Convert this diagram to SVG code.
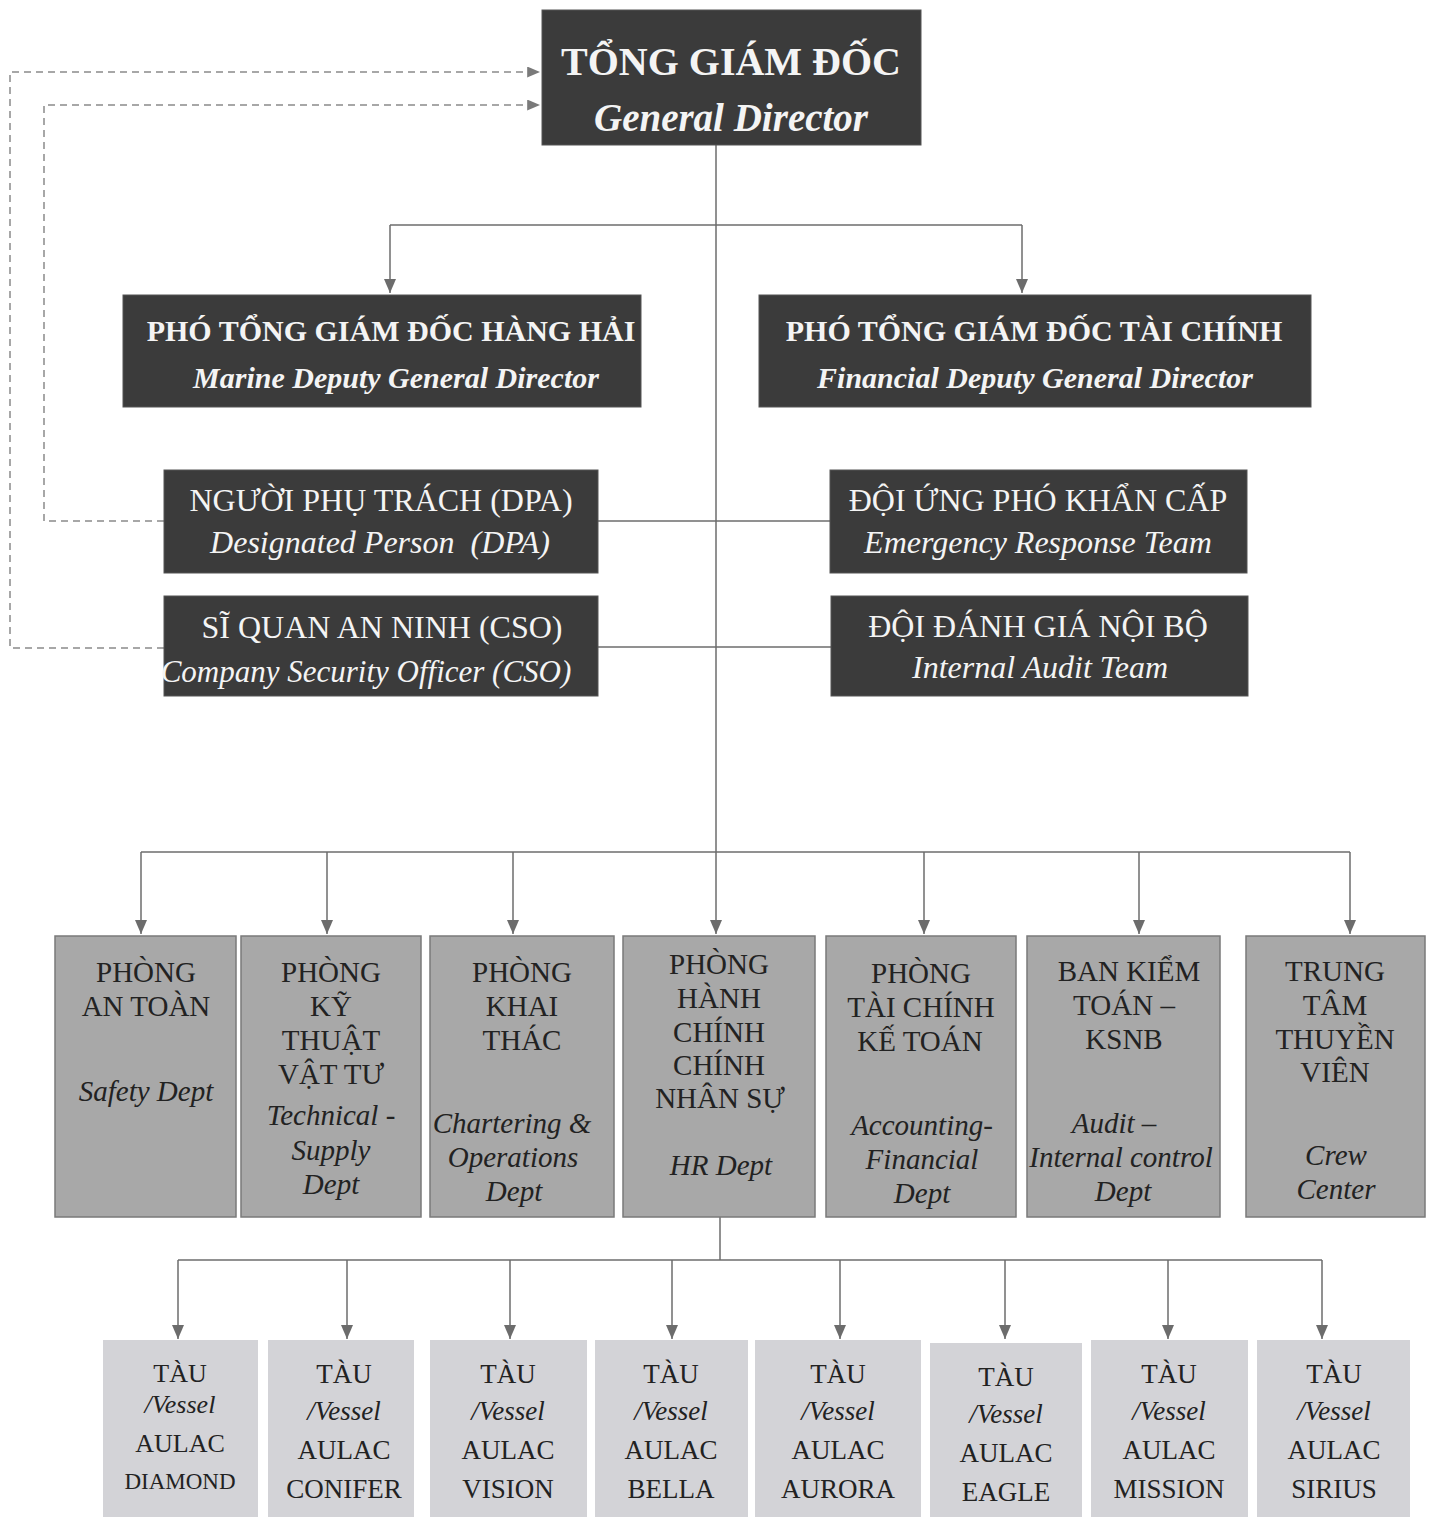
<svg xmlns="http://www.w3.org/2000/svg" width="1431" height="1517" viewBox="0 0 1431 1517">
<defs>
<marker id="ah" viewBox="0 0 14 12" refX="14" refY="6" markerWidth="14" markerHeight="12" markerUnits="userSpaceOnUse" orient="auto"><path d="M0,0 L14,6 L0,12 z" fill="#6c6c6c"/></marker>
<marker id="ahd" viewBox="0 0 14 12" refX="14" refY="6" markerWidth="13" markerHeight="11" markerUnits="userSpaceOnUse" orient="auto"><path d="M0,0 L14,6 L0,12 z" fill="#7a7a7a"/></marker>
<style>
.dark{fill:#3b3b3b;stroke:#555;stroke-width:1}
.dept{fill:#a8a8a8;stroke:#7a7a7a;stroke-width:1.5}
.ves{fill:#d3d3d7}
.t{font-family:"Liberation Serif","Times New Roman",serif;text-anchor:middle}
.w{fill:#f4f4f4}
.k{fill:#222}
.b{font-weight:bold}
.i{font-style:italic}
.ln{fill:none;stroke:#6c6c6c;stroke-width:1.5}
.dl{fill:none;stroke:#8a8a8a;stroke-width:1.5;stroke-dasharray:7 5}
</style>
</defs>
<rect width="1431" height="1517" fill="#fff"/>

<g id="connectors">
<path class="dl" d="M164,648 H10 V72 H540" marker-end="url(#ahd)"/>
<path class="dl" d="M164,521 H44 V105 H540" marker-end="url(#ahd)"/>
<path class="ln" d="M716,145 V934" marker-end="url(#ah)"/>
<path class="ln" d="M390,225 H1022"/>
<path class="ln" d="M390,225 V293" marker-end="url(#ah)"/>
<path class="ln" d="M1022,225 V293" marker-end="url(#ah)"/>
<path class="ln" d="M598,521 H830"/>
<path class="ln" d="M598,647 H831"/>
<path class="ln" d="M141,852 H1350"/>
<path class="ln" d="M141,852 V934" marker-end="url(#ah)"/>
<path class="ln" d="M327,852 V934" marker-end="url(#ah)"/>
<path class="ln" d="M513,852 V934" marker-end="url(#ah)"/>
<path class="ln" d="M924,852 V934" marker-end="url(#ah)"/>
<path class="ln" d="M1139,852 V934" marker-end="url(#ah)"/>
<path class="ln" d="M1350,852 V934" marker-end="url(#ah)"/>
<path class="ln" d="M720,1217 V1260"/>
<path class="ln" d="M178,1260 H1322"/>
<path class="ln" d="M178,1260 V1339" marker-end="url(#ah)"/>
<path class="ln" d="M347,1260 V1339" marker-end="url(#ah)"/>
<path class="ln" d="M510,1260 V1339" marker-end="url(#ah)"/>
<path class="ln" d="M672,1260 V1339" marker-end="url(#ah)"/>
<path class="ln" d="M840,1260 V1339" marker-end="url(#ah)"/>
<path class="ln" d="M1005,1260 V1339" marker-end="url(#ah)"/>
<path class="ln" d="M1168,1260 V1339" marker-end="url(#ah)"/>
<path class="ln" d="M1322,1260 V1339" marker-end="url(#ah)"/>
</g>

<g id="gd">
<rect class="dark" x="542" y="10" width="379" height="135"/>
<text class="t w b" x="731" y="75" font-size="40">TỔNG GIÁM ĐỐC</text>
<text class="t w b i" x="731" y="131" font-size="39">General Director</text>
</g>

<g id="marine">
<rect class="dark" x="123" y="295" width="518" height="112"/>
<text class="t w b" x="391" y="341" font-size="30">PHÓ TỔNG GIÁM ĐỐC HÀNG HẢI</text>
<text class="t w b i" x="396" y="388" font-size="30">Marine Deputy General Director</text>
</g>

<g id="financial">
<rect class="dark" x="759" y="295" width="552" height="112"/>
<text class="t w b" x="1034" y="341" font-size="30">PHÓ TỔNG GIÁM ĐỐC TÀI CHÍNH</text>
<text class="t w b i" x="1035" y="388" font-size="30">Financial Deputy General Director</text>
</g>

<g id="dpa">
<rect class="dark" x="164" y="470" width="434" height="103"/>
<text class="t w" x="381" y="511" font-size="32">NGƯỜI PHỤ TRÁCH (DPA)</text>
<text class="t w i" x="380" y="553" font-size="32" xml:space="preserve">Designated Person  (DPA)</text>
</g>

<g id="cso">
<rect class="dark" x="164" y="596" width="434" height="100"/>
<text class="t w" x="382" y="638" font-size="32">SĨ QUAN AN NINH (CSO)</text>
<text class="t w i" x="366" y="682" font-size="31">Company Security Officer (CSO)</text>
</g>

<g id="ert">
<rect class="dark" x="830" y="470" width="417" height="103"/>
<text class="t w" x="1038" y="511" font-size="32">ĐỘI ỨNG PHÓ KHẨN CẤP</text>
<text class="t w i" x="1038" y="553" font-size="32">Emergency Response Team</text>
</g>

<g id="iat">
<rect class="dark" x="831" y="596" width="417" height="100"/>
<text class="t w" x="1038" y="637" font-size="32">ĐỘI ĐÁNH GIÁ NỘI BỘ</text>
<text class="t w i" x="1040" y="678" font-size="32">Internal Audit Team</text>
</g>

<g id="safety">
<rect class="dept" x="55" y="936" width="181" height="281"/>
<text class="t k" font-size="29"><tspan x="146" y="982">PHÒNG</tspan><tspan x="146" y="1016">AN TOÀN</tspan></text>
<text class="t k i" font-size="29" x="146" y="1101">Safety Dept</text>
</g>

<g id="technical">
<rect class="dept" x="241" y="936" width="180" height="281"/>
<text class="t k" font-size="29"><tspan x="331" y="982">PHÒNG</tspan><tspan x="331" y="1016">KỸ</tspan><tspan x="331" y="1050">THUẬT</tspan><tspan x="331" y="1084">VẬT TƯ</tspan></text>
<text class="t k i" font-size="29"><tspan x="331" y="1125">Technical -</tspan><tspan x="331" y="1160">Supply</tspan><tspan x="331" y="1194">Dept</tspan></text>
</g>

<g id="chartering">
<rect class="dept" x="430" y="936" width="184" height="281"/>
<text class="t k" font-size="29"><tspan x="522" y="982">PHÒNG</tspan><tspan x="522" y="1016">KHAI</tspan><tspan x="522" y="1050">THÁC</tspan></text>
<text class="t k i" font-size="29"><tspan x="512" y="1133">Chartering &amp;</tspan><tspan x="513" y="1167">Operations</tspan><tspan x="514" y="1201">Dept</tspan></text>
</g>

<g id="hr">
<rect class="dept" x="623" y="936" width="192" height="281"/>
<text class="t k" font-size="29"><tspan x="719" y="974">PHÒNG</tspan><tspan x="719" y="1008">HÀNH</tspan><tspan x="719" y="1042">CHÍNH</tspan><tspan x="719" y="1075">CHÍNH</tspan><tspan x="720" y="1108">NHÂN SỰ</tspan></text>
<text class="t k i" font-size="29" x="721" y="1175">HR Dept</text>
</g>

<g id="accounting">
<rect class="dept" x="826" y="936" width="190" height="281"/>
<text class="t k" font-size="29"><tspan x="921" y="983">PHÒNG</tspan><tspan x="921" y="1017">TÀI CHÍNH</tspan><tspan x="920" y="1051">KẾ TOÁN</tspan></text>
<text class="t k i" font-size="29"><tspan x="922" y="1135">Accounting-</tspan><tspan x="922" y="1169">Financial</tspan><tspan x="922" y="1203">Dept</tspan></text>
</g>

<g id="audit">
<rect class="dept" x="1027" y="936" width="193" height="281"/>
<text class="t k" font-size="29"><tspan x="1129" y="981">BAN KIỂM</tspan><tspan x="1124" y="1015">TOÁN –</tspan><tspan x="1124" y="1049">KSNB</tspan></text>
<text class="t k i" font-size="29"><tspan x="1114" y="1133">Audit –</tspan><tspan x="1121" y="1167">Internal control</tspan><tspan x="1123" y="1201">Dept</tspan></text>
</g>

<g id="crew">
<rect class="dept" x="1246" y="936" width="179" height="281"/>
<text class="t k" font-size="29"><tspan x="1335" y="981">TRUNG</tspan><tspan x="1335" y="1015">TÂM</tspan><tspan x="1335" y="1049">THUYỀN</tspan><tspan x="1335" y="1082">VIÊN</tspan></text>
<text class="t k i" font-size="29"><tspan x="1336" y="1165">Crew</tspan><tspan x="1336" y="1199">Center</tspan></text>
</g>

<g id="v-diamond">
<rect class="ves" x="103" y="1340" width="155" height="177"/>
<text class="t k" font-size="26"><tspan x="180" y="1382">TÀU</tspan><tspan class="i" x="180" y="1413">/Vessel</tspan><tspan x="180" y="1452">AULAC</tspan><tspan x="180" y="1489" font-size="23">DIAMOND</tspan></text>
</g>
<g id="v-conifer">
<rect class="ves" x="268" y="1340" width="146" height="177"/>
<text class="t k" font-size="27"><tspan x="344" y="1383">TÀU</tspan><tspan class="i" x="344" y="1420">/Vessel</tspan><tspan x="344" y="1459">AULAC</tspan><tspan x="344" y="1498">CONIFER</tspan></text>
</g>
<g id="v-vision">
<rect class="ves" x="430" y="1340" width="157" height="177"/>
<text class="t k" font-size="27"><tspan x="508" y="1383">TÀU</tspan><tspan class="i" x="508" y="1420">/Vessel</tspan><tspan x="508" y="1459">AULAC</tspan><tspan x="508" y="1498">VISION</tspan></text>
</g>
<g id="v-bella">
<rect class="ves" x="595" y="1340" width="153" height="177"/>
<text class="t k" font-size="27"><tspan x="671" y="1383">TÀU</tspan><tspan class="i" x="671" y="1420">/Vessel</tspan><tspan x="671" y="1459">AULAC</tspan><tspan x="671" y="1498">BELLA</tspan></text>
</g>
<g id="v-aurora">
<rect class="ves" x="755" y="1340" width="166" height="177"/>
<text class="t k" font-size="27"><tspan x="838" y="1383">TÀU</tspan><tspan class="i" x="838" y="1420">/Vessel</tspan><tspan x="838" y="1459">AULAC</tspan><tspan x="838" y="1498">AURORA</tspan></text>
</g>
<g id="v-eagle">
<rect class="ves" x="930" y="1343" width="152" height="174"/>
<text class="t k" font-size="27"><tspan x="1006" y="1386">TÀU</tspan><tspan class="i" x="1006" y="1423">/Vessel</tspan><tspan x="1006" y="1462">AULAC</tspan><tspan x="1006" y="1501">EAGLE</tspan></text>
</g>
<g id="v-mission">
<rect class="ves" x="1091" y="1340" width="157" height="177"/>
<text class="t k" font-size="27"><tspan x="1169" y="1383">TÀU</tspan><tspan class="i" x="1169" y="1420">/Vessel</tspan><tspan x="1169" y="1459">AULAC</tspan><tspan x="1169" y="1498">MISSION</tspan></text>
</g>
<g id="v-sirius">
<rect class="ves" x="1257" y="1340" width="153" height="177"/>
<text class="t k" font-size="27"><tspan x="1334" y="1383">TÀU</tspan><tspan class="i" x="1334" y="1420">/Vessel</tspan><tspan x="1334" y="1459">AULAC</tspan><tspan x="1334" y="1498">SIRIUS</tspan></text>
</g>
</svg>
